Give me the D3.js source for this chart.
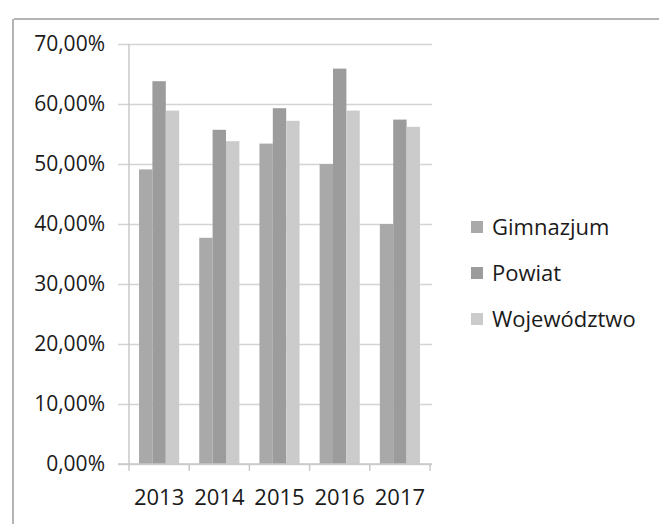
<!DOCTYPE html>
<html>
<head>
<meta charset="utf-8">
<script src="https://cdn.jsdelivr.net/npm/d3@7"></script>
<style>
  body { margin: 0; background: #fff; }
  svg { display: block; }
</style>
</head>
<body>
<script>
var years = ["2013", "2014", "2015", "2016", "2017"];
var series = ["Gimnazjum", "Powiat", "Województwo"];
var gimnazjum = [0.491, 0.377, 0.534, 0.500, 0.400];
var powiat = [0.638, 0.557, 0.593, 0.659, 0.574];
var wojewodztwo = [0.589, 0.538, 0.572, 0.589, 0.562];
var yTicks = [0, 0.1, 0.2, 0.3, 0.4, 0.5, 0.6, 0.7];

var colors = ["#a9a9a9", "#9c9c9c", "#cbcbcb"];
var values = [gimnazjum, powiat, wojewodztwo];

var w = 659, h = 524;
var font = "'Open Sans', sans-serif";

var locale = d3.formatLocale({decimal: ",", thousands: " ", grouping: [3], currency: ["", " zł"]});
var pct = locale.format(".2%");

var svg = d3.select("body").append("svg")
  .attr("width", w)
  .attr("height", h);

// scanned frame edges
svg.append("line")
  .attr("x1", 14).attr("x2", w)
  .attr("y1", 19).attr("y2", 19)
  .attr("stroke", "#b4b4b4").attr("stroke-width", 2);
svg.append("line")
  .attr("x1", 13).attr("x2", 13)
  .attr("y1", 19).attr("y2", h)
  .attr("stroke", "#b4b4b4").attr("stroke-width", 2);

var x = d3.scaleBand()
  .domain(years)
  .range([129, 430])
  .paddingInner(1 / 3)
  .paddingOuter(1 / 6);

var x1 = d3.scaleBand()
  .domain(series)
  .range([0, x.bandwidth()]);

var y = d3.scaleLinear()
  .domain([0, 0.7])
  .range([464, 44]);

// gridlines and y labels
var yAxis = svg.append("g")
  .attr("transform", "translate(118,0)")
  .call(d3.axisLeft(y)
    .tickValues(yTicks)
    .tickSizeInner(-(432 - 118))
    .tickSizeOuter(0)
    .tickPadding(13)
    .tickFormat(pct));
yAxis.select(".domain").remove();
yAxis.selectAll(".tick line")
  .attr("stroke", "#d4d4d4")
  .attr("stroke-width", 1.5);
yAxis.selectAll("text")
  .attr("font-family", font)
  .attr("font-size", "21px")
  .attr("fill", "#1a1a1a");

// bars
svg.append("g").selectAll("g")
  .data(series)
  .enter()
  .append("g")
  .attr("fill", function(d, i){ return colors[i]; })
  .selectAll("rect")
  .data(function(d, i){
    return years.map(function(yr, j){ return {year: yr, s: d, v: values[i][j]}; });
  })
  .enter()
  .append("rect")
  .attr("x", function(d){ return x(d.year) + x1(d.s); })
  .attr("y", function(d){ return y(d.v); })
  .attr("width", x1.bandwidth())
  .attr("height", function(d){ return y(0) - y(d.v); });

// axis lines
svg.append("line")
  .attr("x1", 129).attr("x2", 129)
  .attr("y1", y(0.7)).attr("y2", y(0))
  .attr("stroke", "#c8c8c8").attr("stroke-width", 1.5);
svg.append("line")
  .attr("x1", 118).attr("x2", 432)
  .attr("y1", y(0)).attr("y2", y(0))
  .attr("stroke", "#c8c8c8").attr("stroke-width", 1.5);

// category boundary ticks
svg.append("g").selectAll("line")
  .data(d3.range(years.length + 1))
  .enter()
  .append("line")
  .attr("x1", function(d){ return 129 + d * x.step(); })
  .attr("x2", function(d){ return 129 + d * x.step(); })
  .attr("y1", y(0))
  .attr("y2", y(0) + 7)
  .attr("stroke", "#c8c8c8")
  .attr("stroke-width", 1.5);

// x labels
var xAxis = svg.append("g")
  .attr("transform", "translate(0," + y(0) + ")")
  .call(d3.axisBottom(x).tickSize(0).tickPadding(25));
xAxis.select(".domain").remove();
xAxis.selectAll("text")
  .attr("font-family", font)
  .attr("font-size", "22px")
  .attr("fill", "#1a1a1a");

// legend
var legend = svg.append("g").selectAll("g")
  .data(series)
  .enter()
  .append("g")
  .attr("transform", function(d, i){ return "translate(471," + (227 + i * 46) + ")"; });

legend.append("rect")
  .attr("x", 0)
  .attr("y", -6)
  .attr("width", 12)
  .attr("height", 12)
  .attr("fill", function(d, i){ return colors[i]; });

legend.append("text")
  .attr("x", 21)
  .attr("y", 0)
  .attr("dy", "0.35em")
  .attr("font-family", font)
  .attr("font-size", "22px")
  .attr("fill", "#1a1a1a")
  .text(function(d){ return d; });
</script>
</body>
</html>
